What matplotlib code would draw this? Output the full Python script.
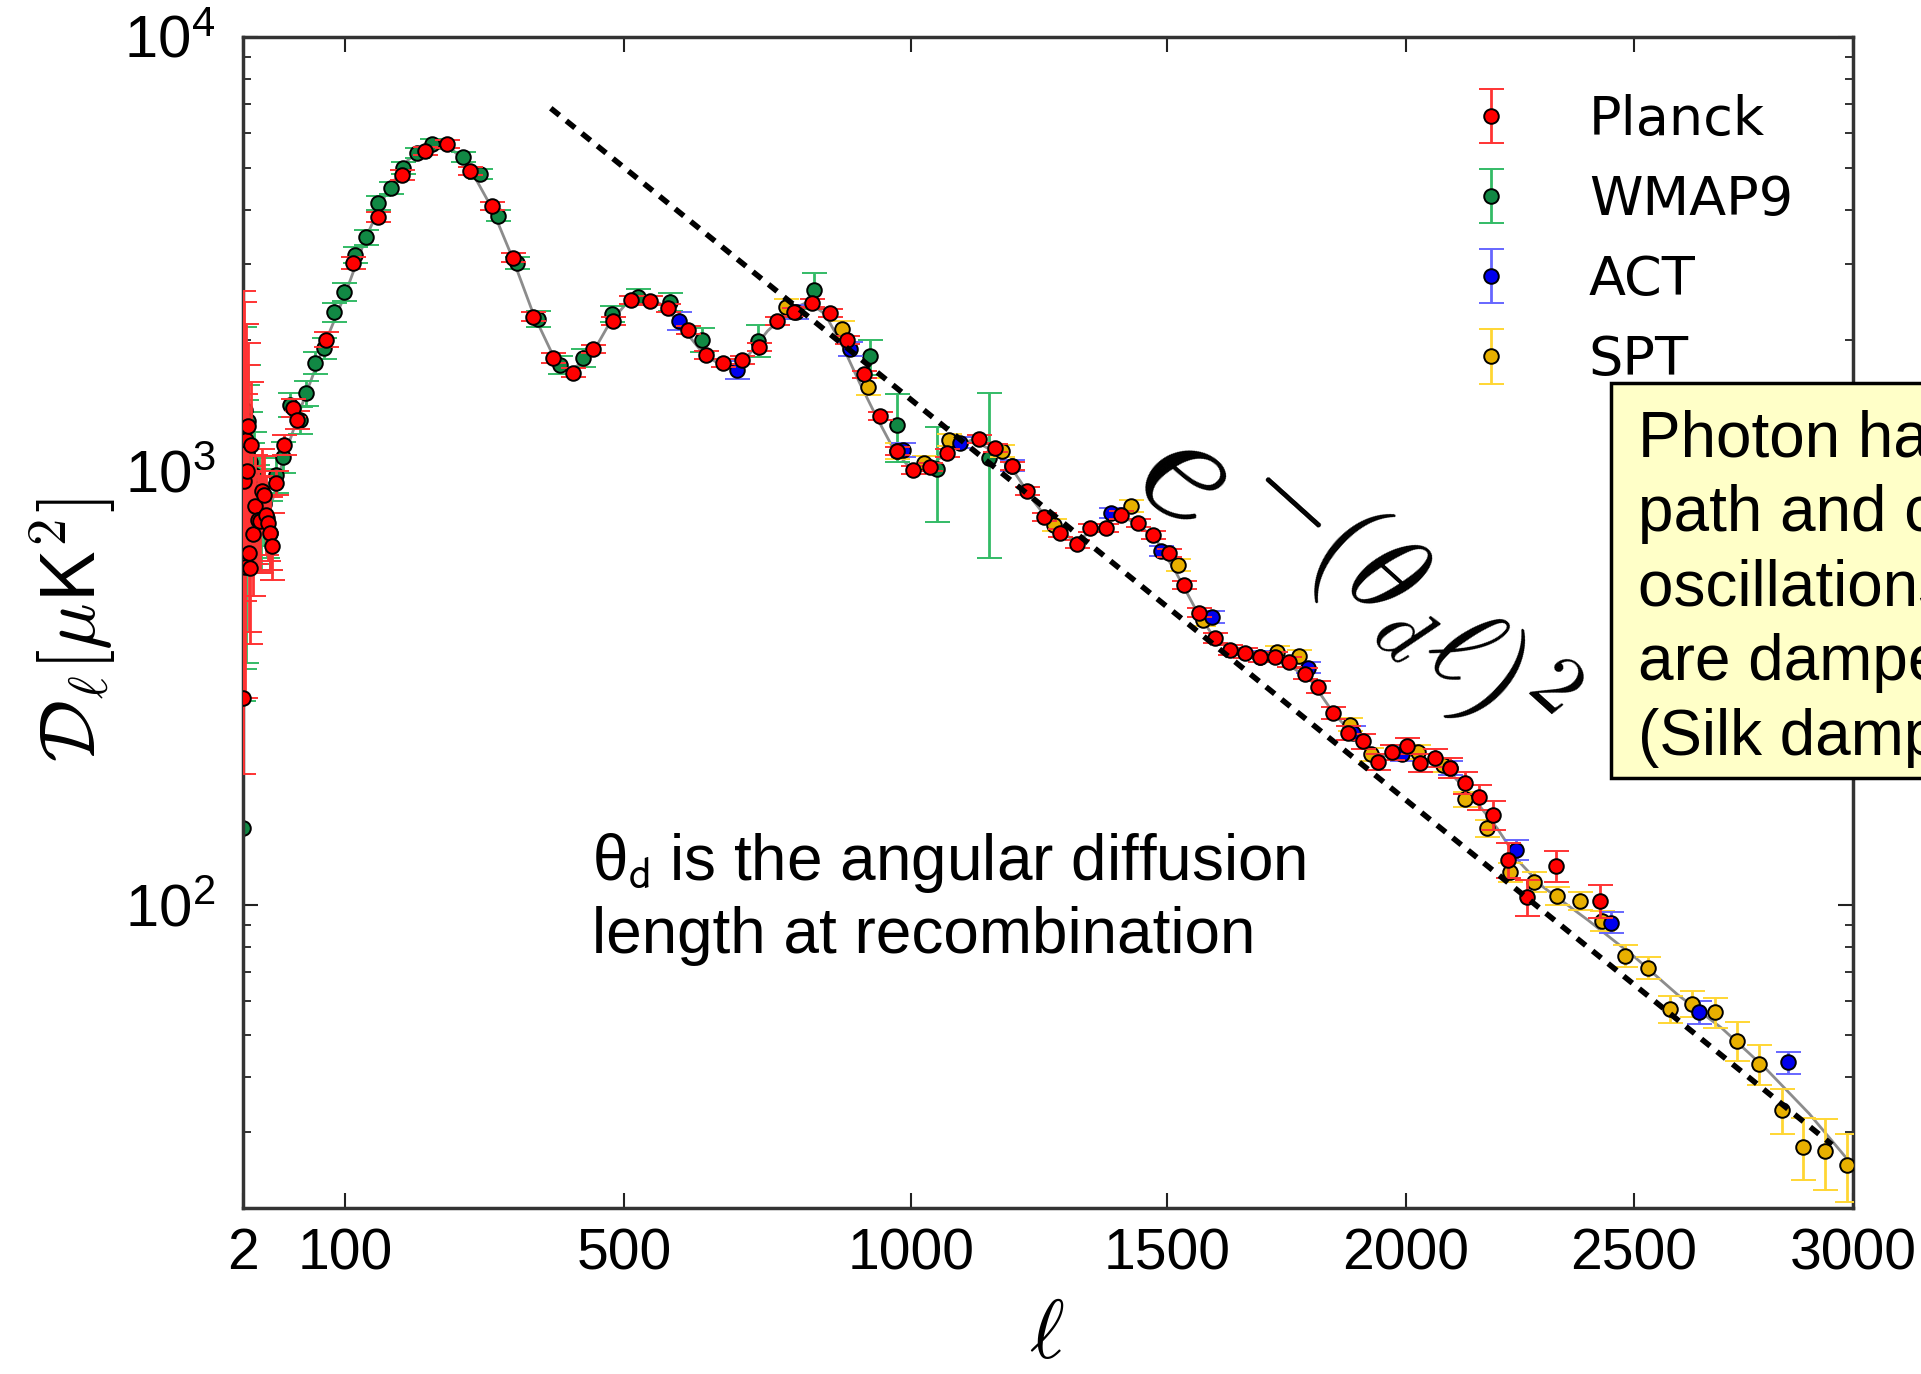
import numpy as np
import matplotlib
matplotlib.use("Agg")
import matplotlib.pyplot as plt
from matplotlib.patches import Rectangle

# ---- data ----------------------------------------------------------------
# Planck low-l (asymmetric errors)
pl_low_l = [2, 3, 4, 5, 6, 7, 8, 9, 10, 12, 14, 16, 18, 20, 22, 24, 26, 28, 30]
pl_low_d = [300, 950, 600, 1180, 1000, 1270, 645, 598, 1150, 714, 830, 770, 765, 900, 880, 790, 760, 720, 670]
pl_low_lo = [100, 450, 300, 500, 400, 450, 220, 200, 350, 200, 220, 190, 180, 190, 170, 150, 140, 130, 110]
pl_low_hi = [2300, 1500, 900, 1000, 750, 700, 380, 320, 450, 280, 260, 230, 210, 220, 200, 180, 160, 150, 130]

# Planck binned
pl_l = [34, 41, 50, 54, 82, 112, 147, 182, 215, 246, 279, 311, 341, 370, 398, 427, 456, 484,
        512, 545, 577, 611, 643, 672, 706, 735, 767, 796, 828, 859, 889, 918, 946, 976, 1004,
        1037, 1070, 1133, 1164, 1197, 1227, 1260, 1291, 1324, 1350, 1381, 1410, 1443, 1473,
        1504, 1536, 1567, 1600, 1632, 1663, 1695, 1726, 1755, 1789, 1816, 1847, 1879, 1910,
        1941, 1971, 2002, 2031, 2064, 2096, 2129, 2160, 2191, 2224, 2265, 2329, 2425]
pl_d = [938, 1148, 1397, 1312, 2005, 3013, 3846, 4808, 5460, 5665, 4911, 4085, 3100, 2265,
        1820, 1683, 1910, 2218, 2478, 2468, 2375, 2113, 1850, 1775, 1802, 1931, 2218, 2325,
        2438, 2312, 2004, 1668, 1339, 1112, 1005, 1021, 1100, 1185, 1130, 1027, 900, 783, 720,
        679, 739, 739, 792, 759, 713, 647, 546, 471, 412, 387, 381, 373, 373, 363, 341, 318,
        277, 249, 238, 213, 225, 232, 212, 218, 207, 191, 177, 161, 127, 104, 123, 102]
pl_err = [60, 60, 65, 65, 80, 100, 110, 120, 120, 120, 110, 90, 70, 55, 45, 40, 45, 50, 55, 55,
          50, 45, 40, 38, 38, 40, 45, 45, 48, 45, 40, 33, 28, 23, 21, 21, 22, 23, 22, 20, 18, 16,
          15, 14, 15, 15, 16, 16, 15, 14, 12, 11, 10, 10, 10, 10, 10, 10, 10, 10, 9, 9, 9, 9, 9,
          10, 10, 10, 11, 11, 12, 12, 12, 10, 10, 9]

# WMAP9
wm_l = [2, 3, 4, 5, 6, 7, 9, 11, 13, 15, 17, 19, 22, 25, 28, 34, 40, 47, 57, 63, 71, 80, 89, 99,
        114, 130, 147, 166, 183, 203, 225, 269, 294, 320, 347, 376, 408, 441, 483, 524, 580,
        636, 733, 831, 929, 976, 1051, 1152]
wm_d = [150, 1250, 1380, 910, 1100, 1300, 1050, 900, 980, 820, 870, 760, 840, 780, 720, 980,
        1077, 1419, 1312, 1513, 1775, 1919, 2323, 2583, 3147, 3459, 4150, 4490, 4990, 5408,
        5665, 5300, 4830, 3873, 3014, 2240, 1755, 1820, 2300, 2518, 2450, 2004, 1995, 2612,
        1836, 1276, 1011, 1071]
wm_err = [145, 900, 800, 550, 480, 450, 320, 260, 250, 210, 200, 180, 170, 150, 130, 90, 90, 90,
          95, 100, 100, 110, 120, 120, 130, 140, 150, 150, 150, 150, 150, 140, 130, 110, 100, 90,
          80, 85, 100, 110, 120, 130, 170, 250, 170, 230, 250, 440]

# ACT
act_l = [596, 697, 800, 894, 986, 1096, 1197, 1391, 1489, 1594, 1695, 1796, 1890, 1992, 2096,
         2241, 2449, 2648, 2851]
act_d = [2218, 1709, 2325, 1910, 1118, 1161, 1027, 800, 654, 461, 373, 352, 249, 223, 207, 134,
         91, 56.6, 43.3]
act_err = [110, 80, 90, 70, 40, 35, 30, 22, 18, 14, 11, 10, 9, 8, 8, 7, 5, 3.5, 2.5]

# SPT
spt_l = [782, 880, 925, 976, 1025, 1074, 1178, 1279, 1429, 1523, 1575, 1730, 1776, 1882, 1926,
         2026, 2081, 2129, 2177, 2227, 2280, 2332, 2382, 2429, 2480, 2533, 2582, 2632, 2685,
         2735, 2785, 2838, 2886, 2936, 2986]
spt_d = [2387, 2123, 1564, 1112, 1043, 1179, 1112, 751, 830, 607, 453, 383, 375, 260, 222, 225,
         210, 175, 150, 119, 113, 105, 102, 91.9, 76.2, 71.6, 57.5, 59.2, 56.6, 48.6, 43.0, 33.7,
         27.7, 27.0, 25.1]
spt_err = [100, 90, 70, 45, 40, 40, 35, 25, 25, 18, 14, 12, 12, 9, 8, 8, 8, 7, 7, 6, 6, 5, 5, 5,
           4.5, 4, 4, 4, 4.5, 5, 4.5, 4, 4.5, 5, 4.5]

# best-fit curve (grey line)
th_l = [2, 10, 20, 30, 40, 60, 80, 100, 130, 160, 190, 220, 250, 280, 310, 340, 370, 400, 420,
        450, 480, 510, 540, 570, 600, 640, 680, 710, 750, 790, 820, 850, 880, 910, 940, 970,
        1000, 1040, 1080, 1120, 1160, 1200, 1240, 1280, 1320, 1360, 1400, 1440, 1480, 1520,
        1560, 1600, 1650, 1700, 1750, 1800, 1850, 1900, 1950, 2000, 2050, 2100, 2150, 2200,
        2250, 2300, 2400, 2500, 2600, 2700, 2800, 2900, 3000]
th_d = [1000, 900, 800, 850, 1050, 1450, 1950, 2550, 3450, 4400, 5200, 5650, 5600, 4950, 4050,
        3100, 2300, 1820, 1700, 1810, 2200, 2480, 2520, 2400, 2150, 1850, 1720, 1800, 2100,
        2350, 2450, 2300, 1950, 1600, 1330, 1120, 1010, 1030, 1130, 1180, 1110, 1000, 850, 740,
        690, 730, 790, 760, 690, 580, 480, 410, 385, 370, 360, 330, 275, 240, 220, 225, 215,
        200, 175, 150, 125, 110, 92, 76, 62, 52, 42, 33, 25]

# damping envelope (dotted line end points)
damp_l = [395, 2952]
damp_d = [6850, 28.0]

x_ticks = [2, 100, 500, 1000, 1500, 2000, 2500, 3000]
x_ticklabels = ['2', '100', '500', '1000', '1500', '2000', '2500', '3000']

# ---- stretched l axis, tick spacing as in the original figure -------------
L_KNOTS = [-1000, 2, 100, 500, 1000, 1500, 2000, 2500, 3000, 10000]
P_KNOTS = [-1043, 0, 102, 381, 668, 924, 1163, 1391, 1610, 4676]


def fwd(x):
    return np.interp(x, L_KNOTS, P_KNOTS)


def inv(p):
    return np.interp(p, P_KNOTS, L_KNOTS)


plt.rcParams['font.family'] = ['Liberation Sans', 'DejaVu Sans']

fig = plt.figure(figsize=(19.21, 13.74), dpi=100)
ax = fig.add_axes([0.1265, 0.1208, 0.8381, 0.8523])
ax.set_xscale('function', functions=(fwd, inv))
ax.set_yscale('log')

ax.plot(th_l, th_d, color='#8c8c8c', lw=2, zorder=1)

eb = dict(fmt='o', ms=10.5, mec='k', mew=1.4, elinewidth=2, capsize=9, capthick=2)
h_wm = ax.errorbar(wm_l, wm_d, yerr=wm_err, mfc='#118844', ecolor='#33bb66',
                   label='WMAP9', zorder=2, **eb)
h_spt = ax.errorbar(spt_l, spt_d, yerr=spt_err, mfc='#e8b000', ecolor='#ffd633',
                    label='SPT', zorder=3, **eb)
h_act = ax.errorbar(act_l, act_d, yerr=act_err, mfc='#0000ee', ecolor='#6666ff',
                    label='ACT', zorder=3, **eb)
ax.errorbar(pl_low_l, pl_low_d, yerr=[pl_low_lo, pl_low_hi], mfc='#ff0000',
            ecolor='#ff3333', zorder=4, **eb)
h_pl = ax.errorbar(pl_l, pl_d, yerr=pl_err, mfc='#ff0000', ecolor='#ff3333',
                   label='Planck', zorder=4, **eb)

ax.plot(damp_l, damp_d, color='k', ls=(0, (2, 1.6)), lw=4, zorder=5)

ax.set_xlim(2, 3000)
ax.set_ylim(20, 1e4)
ax.set_xticks(x_ticks)
ax.set_xticklabels(x_ticklabels)
ax.tick_params(which='both', direction='in', top=True, right=True, labelsize=41,
               colors='#222222', labelcolor='k')
ax.tick_params(which='major', length=11, width=1.5)
ax.tick_params(which='minor', length=6, width=1.3)
ax.tick_params(axis='x', pad=14)
ax.tick_params(axis='y', pad=20, labelsize=43)
for s in ax.spines.values():
    s.set_linewidth(2.5)
    s.set_color('#333333')

ax.legend(handles=[h_pl, h_wm, h_act, h_spt], loc='upper right', frameon=False,
          numpoints=1, labelspacing=0.52, handletextpad=0.8,
          bbox_to_anchor=(0.993, 0.993), prop={'family': 'DejaVu Sans', 'size': 39})

# axis labels
fig.text(0.038, 0.541, r'$\mathcal{D}_\ell[\mu\mathsf{K}^2]$', rotation=90,
         ha='center', va='center', fontsize=56, math_fontfamily='cm')
fig.text(0.545, 0.028, r'$\ell$', ha='center', va='center', fontsize=60,
         math_fontfamily='cm')

# damping formula
fig.text(0.6965, 0.561, r'$e^{-(\theta_d \ell)^2}$', rotation=-42, rotation_mode='anchor',
         ha='center', va='center', fontsize=122, math_fontfamily='cm')

# note on theta_d
fig.text(0.308, 0.3595, r'θ$_\mathrm{d}$ is the angular diffusion', fontsize=46,
         family='Liberation Sans', va='baseline', math_fontfamily='stixsans')
fig.text(0.308, 0.3064, 'length at recombination', fontsize=46,
         family='Liberation Sans', va='baseline')

# yellow note box, cut by the right edge
fig.add_artist(Rectangle((0.8386, 0.4338), 0.3, 0.2875, transform=fig.transFigure,
                         facecolor='#ffffc8', edgecolor='k', lw=2.5, zorder=6))
box_lines = ['Photon has a finite mean free', 'path and can diffuse, so',
             'oscillations on small scales', 'are damped out', '(Silk damping)']
for i, line in enumerate(box_lines):
    fig.text(0.8527, 0.6681 - i * 0.0544, line, fontsize=46, family='Liberation Sans',
             va='baseline', zorder=7)

fig.savefig('out.png', dpi=100)
